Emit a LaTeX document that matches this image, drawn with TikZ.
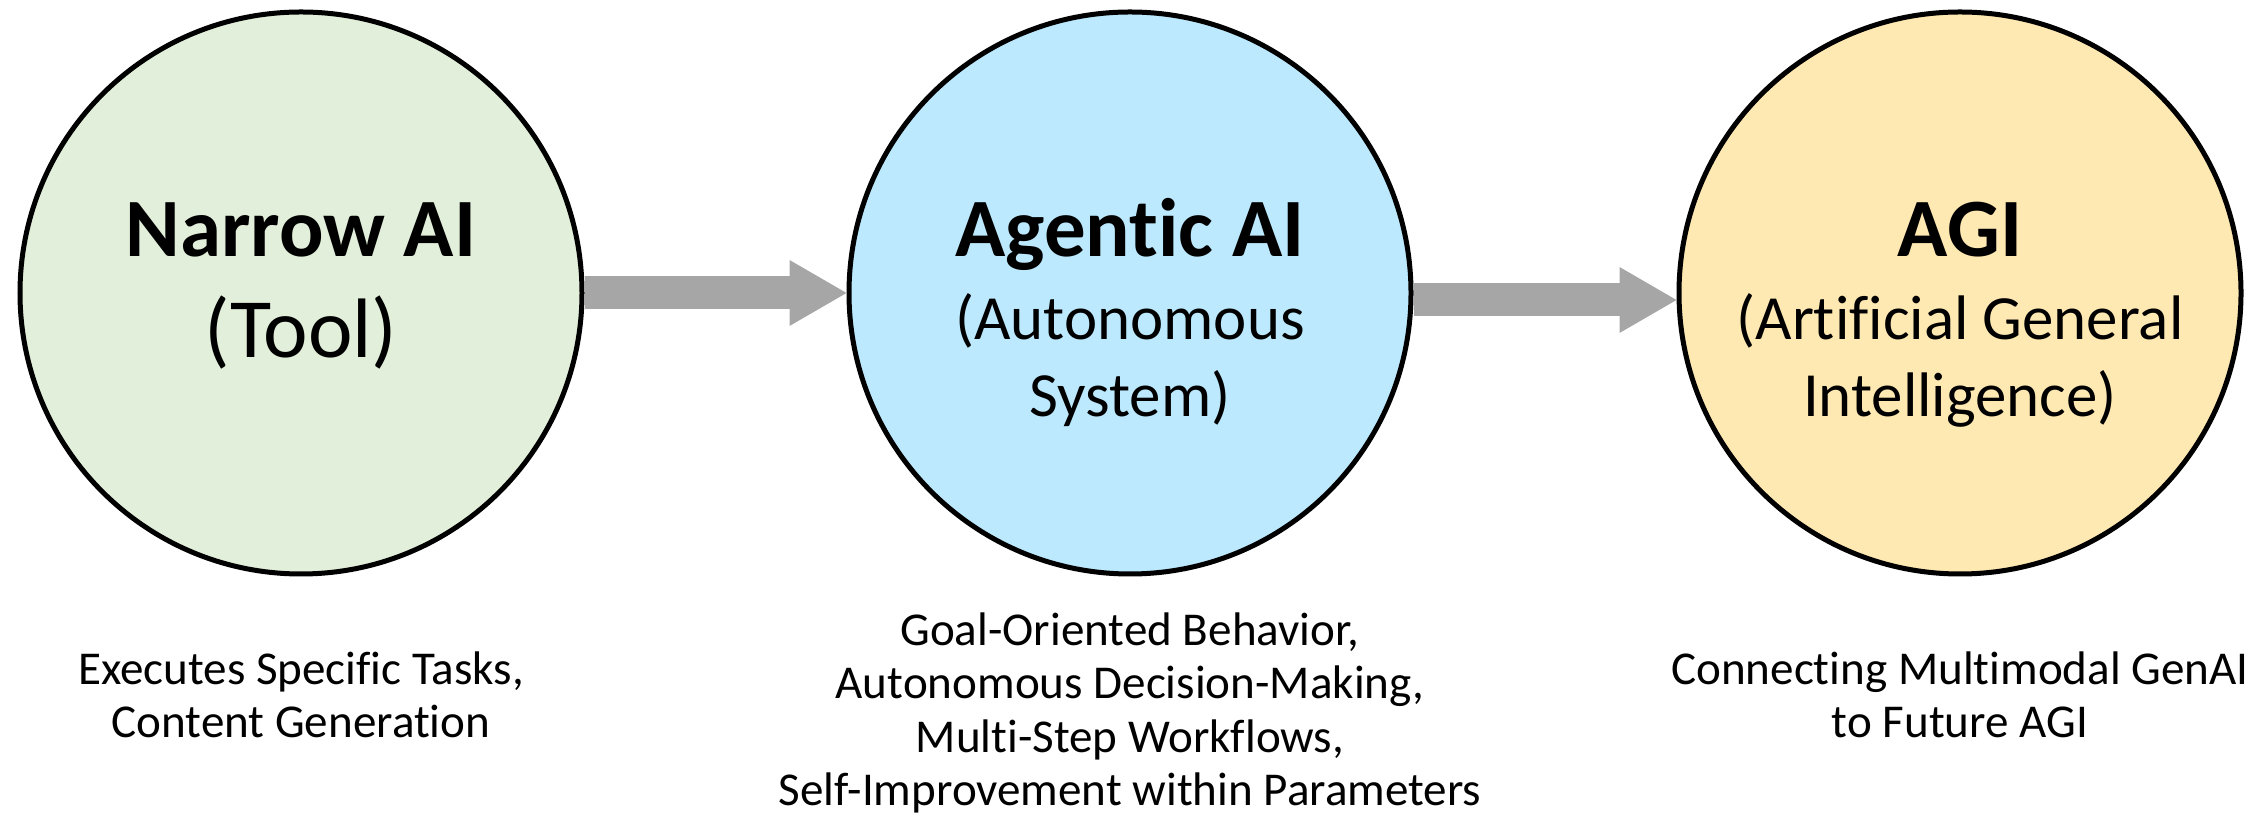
\documentclass[tikz,border=0pt]{standalone}
\usepackage{fontspec}
\setmainfont{Carlito}[Ligatures={NoCommon}]
\usetikzlibrary{arrows.meta}
\definecolor{narrowgreen}{HTML}{E2EFDA}
\definecolor{agenticblue}{HTML}{BCE9FD}
\definecolor{agigold}{HTML}{FFE9B3}
\definecolor{arrowgray}{HTML}{A6A6A6}
\begin{document}
\begin{tikzpicture} [scale=1.00]
  % styles for the stage circles, their texts and the arrows
  \tikzstyle{stage}=[circle,draw=black,line width=0.50mm,minimum size=5.62cm,inner sep=0pt]
  \tikzstyle{title}=[font=\fontsize{23.6}{28}\selectfont\bfseries,anchor=base,inner sep=0pt]
  \tikzstyle{subtitle}=[font=\fontsize{17.9}{21.9}\selectfont,align=center,anchor=north,inner sep=0pt]
  \tikzstyle{note}=[font=\fontsize{13.4}{15.2}\selectfont,align=center,inner sep=0pt]
  \tikzstyle{flow}=[draw=arrowgray,line width=3.3mm,-{Triangle[length=5.7mm,width=6.6mm,line width=0pt]}]

  \useasboundingbox (0,0) rectangle (22.57,8.20);

  % Draw the stages
  \node [stage,fill=narrowgreen] (S1) at ( 3.01, 5.27) {};
  \node [stage,fill=agenticblue] (S2) at (11.30, 5.27) {};
  \node [stage,fill=agigold]     (S3) at (19.60, 5.27) {};

  % titles
  \node [title] (T1) at ( 3.01, 5.63) {Narrow AI};
  \node [title] (T2) at (11.30, 5.63) {Agentic AI};
  \node [title] (T3) at (19.60, 5.63) {AGI};

  % subtitles
  \node [subtitle,font=\fontsize{24}{28}\selectfont,anchor=base] (U1) at ( 3.01, 4.62) {(Tool)};
  \node [subtitle] (U2) at (11.30, 5.27) {(Autonomous\\ System)};
  \node [subtitle] (U3) at (19.60, 5.27) {(Artificial General\\ Intelligence)};

  % arrows between the stages
  \draw [flow] (S1.east) -- (S2.west);
  \draw [flow] ([yshift=-0.7mm]S2.east) -- ([yshift=-0.7mm]S3.west);

  % notes under the stages
  \node [note] (N1) at ( 3.01, 1.25) {Executes Specific Tasks,\\ Content Generation};
  \node [note] (N2) at (11.30, 1.07) {Goal-Oriented Behavior,\\ Autonomous Decision-Making,\\ Multi-Step Workflows,\\ Self-Improvement within Parameters};
  \node [note] (N3) at (19.60, 1.25) {Connecting Multimodal GenAI\\ to Future AGI};

\end{tikzpicture}
\end{document}
